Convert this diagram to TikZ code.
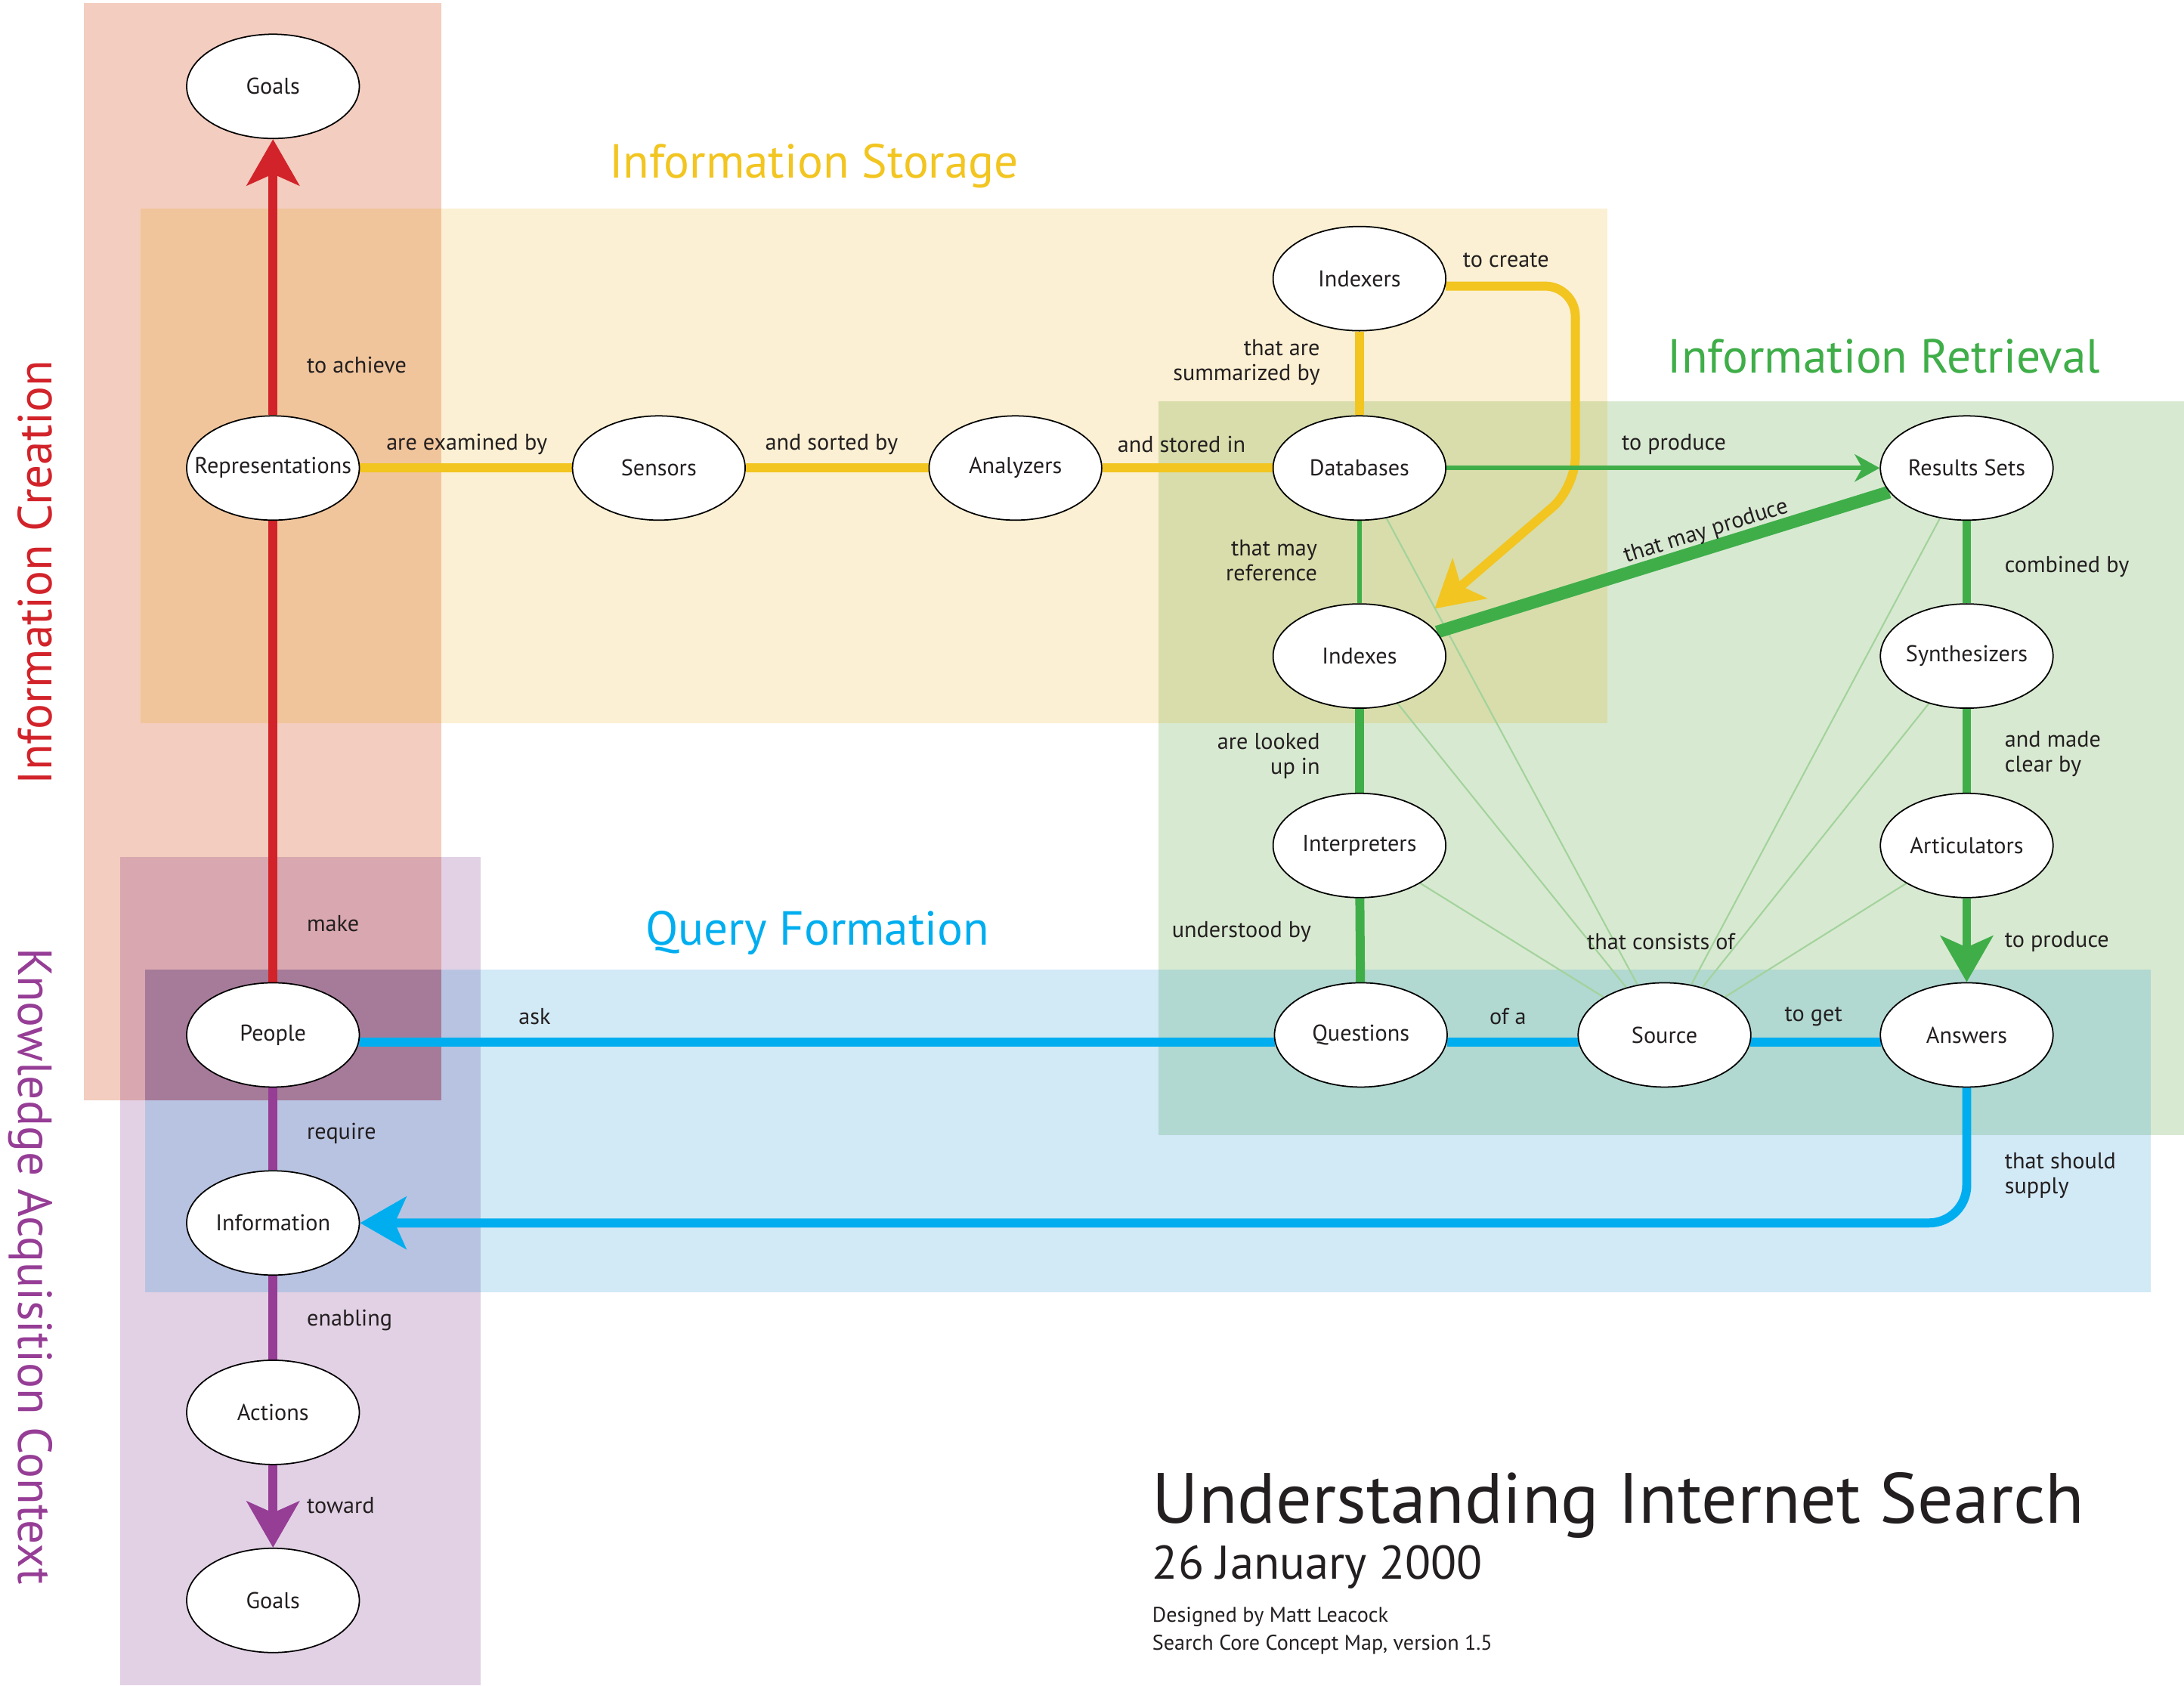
\documentclass[tikz,border=0pt]{standalone}
\usepackage{fontspec}
\setmainfont{PT Sans}
\usetikzlibrary{arrows.meta,shapes.geometric,calc}
\definecolor{textc}{HTML}{231F20}
\definecolor{redc}{HTML}{D2232A}
\definecolor{purc}{HTML}{963D96}
\definecolor{yelc}{HTML}{F2C520}
\definecolor{grnc}{HTML}{3FAE49}
\definecolor{ltgrn}{HTML}{A3D39C}
\definecolor{bluc}{HTML}{00AEEF}
\definecolor{bgS}{HTML}{F3CDBF}
\definecolor{bgY}{HTML}{FBF0D3}
\definecolor{bgG}{HTML}{D8E9D1}
\definecolor{bgB}{HTML}{D2E9F6}
\definecolor{bgP}{HTML}{E2D1E5}
\definecolor{bgSY}{HTML}{F1C59C}
\definecolor{bgYG}{HTML}{D8DDAB}
\definecolor{bgGB}{HTML}{B1D8D1}
\definecolor{bgSP}{HTML}{D9A7AF}
\definecolor{bgPB}{HTML}{B8C3E1}
\definecolor{bgSPB}{HTML}{A67B99}
\newcommand\zerowd[1]{\makebox[0pt][c]{#1}}
\pgfdeclarelayer{bg}
\pgfdeclarelayer{lines}
\pgfsetlayers{bg,lines,main}
\tikzset{
  concept/.style={ellipse, draw=black, line width=0.5pt, fill=white,
    minimum width=2.285cm, minimum height=1.38cm, inner sep=0pt,
    font=\fontsize{8.6}{9.4}\selectfont, text=textc},
  lbl/.style={font=\fontsize{8.6}{9.4}\selectfont, text=textc, inner sep=0pt},
  ttl/.style={font=\fontsize{18}{20}\selectfont, inner sep=0pt},
  thickln/.style={line width=3.4pt},
  thinln/.style={line width=1.8pt},
  hairln/.style={line width=0.6pt, ltgrn},
  bigtip/.style={-{Stealth[length=0.61cm,width=0.69cm,inset=0.15cm]}},
  smalltip/.style={-{Stealth[length=0.33cm,width=0.36cm,inset=0.1cm]}}
}
\begin{document}
\begin{tikzpicture}[x=0.018431cm, y=-0.018431cm]
\useasboundingbox (0,0) rectangle (1568,1210);
\begin{pgfonlayer}{bg}
  \fill[white] (0,0) rectangle (1568,1210);
  \fill[bgS] (60,2) rectangle (317,790);
  \fill[bgY] (101,150) rectangle (1154,519);
  \fill[bgG] (832,288) rectangle (1568,815);
  \fill[bgB] (104,696) rectangle (1544,928);
  \fill[bgP] (86,615) rectangle (345,1210);
  \fill[bgSY] (101,150) rectangle (317,519);
  \fill[bgYG] (832,288) rectangle (1154,519);
  \fill[bgGB] (832,696) rectangle (1544,815);
  \fill[bgSP] (86,615) rectangle (317,790);
  \fill[bgPB] (104,696) rectangle (345,928);
  \fill[bgSPB] (104,696) rectangle (317,790);
\end{pgfonlayer}

% concepts
\node[concept] (g1) at (196,62) {Goals};
\node[concept] (rep) at (196,336) {\zerowd{Representations}};
\node[concept] (sen) at (473,336) {Sensors};
\node[concept] (ana) at (729,336) {Analyzers};
\node[concept] (ixr) at (976,200) {Indexers};
\node[concept] (db) at (976,336) {Databases};
\node[concept] (rs) at (1412,336) {Results Sets};
\node[concept] (ixs) at (976,471) {Indexes};
\node[concept] (syn) at (1412,471) {Synthesizers};
\node[concept] (int) at (976,607) {Interpreters};
\node[concept] (art) at (1412,607) {Articulators};
\node[concept] (ppl) at (196,743) {People};
\node[concept] (que) at (977,743) {Questions};
\node[concept] (src) at (1195,743) {Source};
\node[concept] (ans) at (1412,743) {Answers};
\node[concept] (inf) at (196,878) {Information};
\node[concept] (act) at (196,1014) {Actions};
\node[concept] (g2) at (196,1149) {Goals};

\coordinate (ybend) at (1131,350);
\coordinate (ixtip) at (1030,437);

\begin{pgfonlayer}{lines}
  % red
  \draw[redc, thickln] (ppl) -- (rep);
  \draw[redc, thickln, bigtip] (rep) -- (g1);
  % purple
  \draw[purc, thickln] (ppl) -- (inf);
  \draw[purc, thickln] (inf) -- (act);
  \draw[purc, thickln, bigtip] (act) -- (g2);
  % yellow
  \draw[yelc, thickln] (rep) -- (sen);
  \draw[yelc, thickln] (sen) -- (ana);
  \draw[yelc, thickln] (ana) -- (db);
  \draw[yelc, thickln] (ixr) -- (db);
  \draw[yelc, thickln, bigtip, rounded corners=0.4cm] (ixr.-5) -| (ybend) -- (ixtip);
  % light green rays
  \draw[hairln] (src) -- (db);
  \draw[hairln] (src) -- (ixs);
  \draw[hairln] (src) -- (int);
  \draw[hairln] (src) -- (rs);
  \draw[hairln] (src) -- (syn);
  \draw[hairln] (src) -- (art);
  % green
  \draw[grnc, thinln, smalltip] (db) -- (rs);
  \draw[grnc, thinln] (db) -- (ixs);
  \draw[grnc, line width=4.8pt] (ixs) -- (rs);
  \draw[grnc, thickln] (ixs) -- (int);
  \draw[grnc, thickln] (int) -- (que);
  \draw[grnc, thickln] (rs) -- (syn);
  \draw[grnc, thickln] (syn) -- (art);
  \draw[grnc, thickln, bigtip] (art) -- (ans);
  % blue
  \draw[bluc, thickln] (ppl.-5) -- (que.185);
  \draw[bluc, thickln] (que.-5) -- (src.185);
  \draw[bluc, thickln] (src.-5) -- (ans.185);
  \draw[bluc, thickln, bigtip, rounded corners=0.5cm] (ans.south) |- (inf.east);
\end{pgfonlayer}

% link labels
\node[lbl, anchor=west] at (220,262) {to achieve};
\node[lbl, anchor=west] at (277,319) {are examined by};
\node[lbl, anchor=west] at (549,319) {and sorted by};
\node[lbl, anchor=west] at (802,319) {and stored in};
\node[lbl, anchor=east, align=right] at (948,260) {that are\\summarized by};
\node[lbl, anchor=west] at (1050,187) {to create};
\node[lbl, anchor=west] at (1164,319) {to produce};
\node[lbl, anchor=east, align=right] at (946,402.5) {that may\\reference};
\node[lbl, rotate=17.3] at (1225,382) {that may produce};
\node[lbl, anchor=west] at (1439,407) {combined by};
\node[lbl, anchor=east, align=right] at (948,543) {are looked\\up in};
\node[lbl, anchor=west, align=left] at (1439,541) {and made\\clear by};
\node[lbl, anchor=west] at (841,669) {understood by};
\node[lbl, anchor=west] at (1139,676) {that consists of};
\node[lbl, anchor=west] at (1439,676) {to produce};
\node[lbl, anchor=west] at (1069,730) {of a};
\node[lbl, anchor=west] at (1281,730) {to get};
\node[lbl, anchor=west] at (372,730) {ask};
\node[lbl, anchor=west, align=left] at (1439,844) {that should\\supply};
\node[lbl, anchor=west] at (220,663) {make};
\node[lbl, anchor=west] at (220,814) {require};
\node[lbl, anchor=west] at (220,948) {enabling};
\node[lbl, anchor=west] at (220,1081) {toward};

% section titles
\node[ttl, text=yelc, anchor=west] (tS) at (437,119) {Information Storage};
\node[ttl, text=grnc, anchor=west] (tR) at (1197,256) {Information Retrieval};
\node[ttl, text=bluc, anchor=west] (tQ) at (463,670) {Query Formation};
\node[ttl, text=redc, rotate=90] (tC) at (25,411) {Information Creation};
\node[ttl, text=purc, rotate=-90] (tK) at (22,909) {Knowledge Acquisition Context};

% title block
\node[anchor=west, inner sep=0pt, text=textc, font=\fontsize{26.8}{30}\selectfont] (tt) at (827,1081) {Understanding Internet Search};
\node[anchor=west, inner sep=0pt, text=textc, font=\fontsize{17.8}{20}\selectfont] (td) at (827,1125) {26 January 2000};
\node[anchor=west, inner sep=0pt, text=textc, font=\fontsize{8}{9}\selectfont] (ta) at (827,1161) {Designed by Matt Leacock};
\node[anchor=west, inner sep=0pt, text=textc, font=\fontsize{8}{9}\selectfont] (tv) at (827,1181) {Search Core Concept Map, version 1.5};
\end{tikzpicture}
\end{document}
